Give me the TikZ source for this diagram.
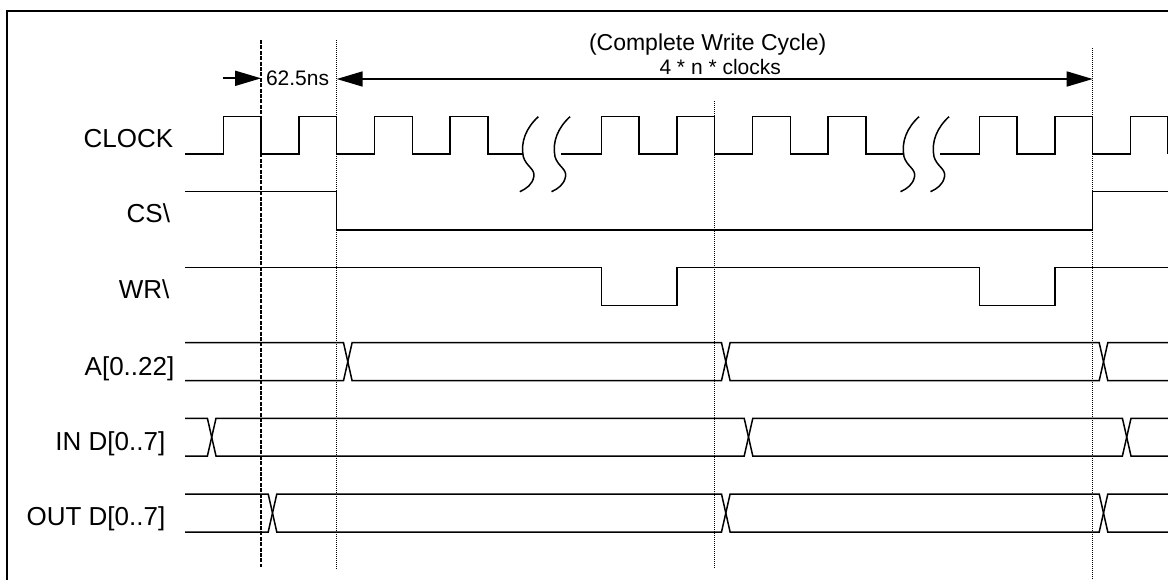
\documentclass[tikz,border=0pt]{standalone}
\usepackage{fontspec}
\setmainfont{Liberation Sans}
\usetikzlibrary{arrows.meta}
\begin{document}
\begin{tikzpicture}[x=0.5pt,y=-0.5pt,
  sig/.style={line width=0.75pt, line join=miter},
  framel/.style={line width=1pt},
  dashv/.style={line width=0.7pt, dash pattern=on 2pt off 0.7pt},
  dotv/.style={line width=0.4pt, dash pattern=on 0.5pt off 0.5pt},
  tipT/.tip={Triangle[length=13pt,width=7.5pt]},
  dimr/.style={line width=0.85pt, -tipT},
  dimlr/.style={line width=0.85pt, tipT-tipT},
  lbl/.style={inner sep=0pt, outer sep=0pt, anchor=base east, font=\fontsize{13}{15}\selectfont},
  note/.style={inner sep=0pt, outer sep=0pt, anchor=base west, font=\fontsize{10.5}{12}\selectfont}]
\useasboundingbox (0,0) rectangle (1168,579);
% frame
\coordinate (fTL) at (7.3,10.7);
\coordinate (fTR) at (1170,10.7);
\coordinate (fBL) at (7.3,581);
\draw[framel] (fBL) -- (fTL) -- (fTR);
% labels
\node[lbl] (lclock) at (173.3,147.7) {CLOCK};
\node[lbl] (lcs)    at (170,222.7) {CS\textbackslash};
\node[lbl] (lwr)    at (169.3,298.3) {WR\textbackslash};
\node[lbl] (la)     at (174.3,375) {A[0..22]};
\node[lbl] (lin)    at (165.3,450.3) {IN D[0..7]};
\node[lbl] (lout)   at (165.3,525.3) {OUT D[0..7]};
% vertical reference lines
\coordinate (v1t) at (261.1,40);  \coordinate (v1b) at (261.1,567);
\coordinate (v2t) at (336.7,40);  \coordinate (v2b) at (336.7,569);
\coordinate (v3t) at (714.7,101); \coordinate (v3b) at (714.7,569);
\coordinate (v4t) at (1092.7,48); \coordinate (v4b) at (1092.7,581);
\draw[dashv] (v1t) -- (v1b);
\draw[dotv] (v2t) -- (v2b);
\draw[dotv] (v3t) -- (v3b);
\draw[dotv] (v4t) -- (v4b);
% dimension arrows and texts
\coordinate (a1s) at (223.3,78.3);
\coordinate (a1e) at (261.1,78.3);
\coordinate (a2s) at (336.7,79);
\coordinate (a2e) at (1092.7,79);
\draw[dimr] (a1s) -- (a1e);
\draw[dimlr] (a2s) -- (a2e);
\node[note] (tns) at (266,85) {62.5ns};
\node[note, font=\fontsize{11.5}{13}\selectfont] (ttitle) at (589,50) {(Complete Write Cycle)};
\node[note] (tclk) at (659.5,74) {4 * n * clocks};
% CLOCK
\draw[sig] (185,154) -- (223.3,154) -- (223.3,116.7) -- (261.1,116.7) -- (261.1,154)
  -- (298.9,154) -- (298.9,116.7) -- (336.7,116.7) -- (336.7,154)
  -- (374.5,154) -- (374.5,116.7) -- (412.3,116.7) -- (412.3,154)
  -- (450.1,154) -- (450.1,116.7) -- (487.9,116.7) -- (487.9,154) -- (523.3,154);
\draw[sig] (561,154) -- (601.3,154) -- (601.3,116.7) -- (639.1,116.7) -- (639.1,154)
  -- (676.9,154) -- (676.9,116.7) -- (714.7,116.7) -- (714.7,154)
  -- (752.5,154) -- (752.5,116.7) -- (790.3,116.7) -- (790.3,154)
  -- (828.1,154) -- (828.1,116.7) -- (865.9,116.7) -- (865.9,154) -- (904,154);
\draw[sig] (940,154) -- (979.3,154) -- (979.3,116.7) -- (1017.1,116.7) -- (1017.1,154)
  -- (1054.9,154) -- (1054.9,116.7) -- (1092.7,116.7) -- (1092.7,154)
  -- (1130.5,154) -- (1130.5,116.7) -- (1167.5,116.7) -- (1167.5,154);
% break squiggles
\foreach \tx in {538.3,570,919,949}{
  \begin{scope}[shift={(\tx,116.7)}]
    \draw[sig] (0,0) .. controls (-12,11) and (-18,25) .. (-15,40)
      .. controls (-12,50) and (-3,52) .. (-4.5,60)
      .. controls (-6,68) and (-12,72) .. (-18.5,75);
  \end{scope}
}
% CS
\draw[sig] (185,191.7) -- (336.7,191.7) -- (336.7,230) -- (1092.7,230) -- (1092.7,191.7) -- (1168,191.7);
% WR
\draw[sig] (185,267.7) -- (601.3,267.7) -- (601.3,305.7) -- (676.9,305.7) -- (676.9,267.7)
  -- (979.3,267.7) -- (979.3,305.7) -- (1054.9,305.7) -- (1054.9,267.7) -- (1168,267.7);
% A bus
\draw[sig] (185,342.7) -- (343.5,342.7) -- (352.1,380.7) -- (721.5,380.7) -- (730.1,342.7) -- (1099.2,342.7) -- (1107.8,380.7) -- (1168,380.7);
\draw[sig] (185,380.7) -- (343.5,380.7) -- (352.1,342.7) -- (721.5,342.7) -- (730.1,380.7) -- (1099.2,380.7) -- (1107.8,342.7) -- (1168,342.7);
% IN D bus
\draw[sig] (185,418.3) -- (207.4,418.3) -- (216,456) -- (744.2,456) -- (752.8,418.3) -- (1122.4,418.3) -- (1131,456) -- (1168,456);
\draw[sig] (185,456) -- (207.4,456) -- (216,418.3) -- (744.2,418.3) -- (752.8,456) -- (1122.4,456) -- (1131,418.3) -- (1168,418.3);
% OUT D bus
\draw[sig] (185,494) -- (268.2,494) -- (276.8,532) -- (721.5,532) -- (730.1,494) -- (1099.2,494) -- (1107.8,532) -- (1168,532);
\draw[sig] (185,532) -- (268.2,532) -- (276.8,494) -- (721.5,494) -- (730.1,532) -- (1099.2,532) -- (1107.8,494) -- (1168,494);
\end{tikzpicture}
\end{document}
